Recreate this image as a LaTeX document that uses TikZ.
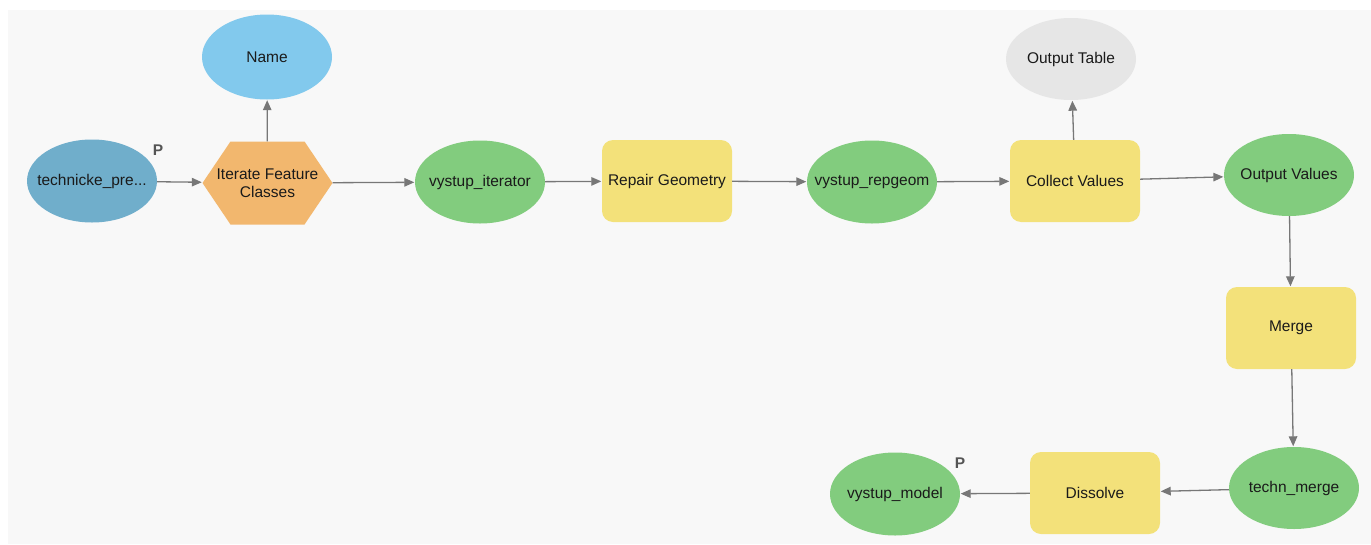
\documentclass[tikz,border=0pt]{standalone}
\usepackage{fontspec}
\setmainfont{Liberation Sans}
\usetikzlibrary{shapes.geometric,arrows.meta}
\definecolor{databl}{HTML}{70AECB}
\definecolor{namebl}{HTML}{82C9ED}
\definecolor{iterorange}{HTML}{F2B76E}
\definecolor{vargreen}{HTML}{82CC7E}
\definecolor{toolyellow}{HTML}{F3E17A}
\definecolor{outgray}{HTML}{E6E6E6}
\definecolor{bggray}{HTML}{F8F8F8}
\definecolor{arrgray}{HTML}{777777}
\definecolor{txt}{HTML}{1A1A1A}
\definecolor{plabel}{HTML}{555555}
\tikzset{
  base/.style={font=\fontsize{15.5}{18}\selectfont, text=txt, inner sep=0pt, align=center},
  varell/.style={base, ellipse, inner xsep=-20pt, inner ysep=0pt, fill=vargreen, minimum width=130pt, minimum height=83pt},
  toolbox/.style={base, rectangle, rounded corners=11pt, fill=toolyellow, minimum width=130pt, minimum height=82pt},
  hexnode/.style={base, rectangle, minimum width=130pt, minimum height=83pt,
    path picture={\fill[iterorange] (path picture bounding box.west) -- ([xshift=28pt]path picture bounding box.north west) -- ([xshift=-28pt]path picture bounding box.north east) -- (path picture bounding box.east) -- ([xshift=-28pt]path picture bounding box.south east) -- ([xshift=28pt]path picture bounding box.south west) -- cycle;}},
  conn/.style={draw=arrgray, line width=1.3pt, -{Triangle[length=10pt,width=8.5pt]}, shorten >=0.5pt},
  plab/.style={font=\fontsize{15.5}{15.5}\selectfont\bfseries, text=plabel, inner sep=0pt}
}
\begin{document}
\begin{tikzpicture}[x=1pt,y=-1pt]
\useasboundingbox (0,0) rectangle (1371,544);
\fill[bggray] (8,10) rectangle (1371,544);
\node[varell, fill=databl] (tech) at (92,181) {technicke\_pre...};
\node[plab] (p1) at (158,150) {P};
\node[hexnode] (iter) at (267.5,183) {Iterate Feature\\Classes};
\node[varell, fill=namebl, minimum height=85pt] (name) at (267,57) {Name};
\node[varell] (vit) at (480,182) {vystup\_iterator};
\node[toolbox] (repair) at (667,181) {Repair Geometry};
\node[varell] (vrep) at (872,182) {vystup\_repgeom};
\node[toolbox] (collect) at (1075,181) {Collect Values};
\node[varell, fill=outgray, minimum height=82pt] (otab) at (1071,59) {Output Table};
\node[varell, minimum height=82pt] (oval) at (1289,175) {Output Values};
\node[toolbox] (merge) at (1291,328) {Merge};
\node[varell, minimum height=82pt] (tmerge) at (1294,488) {techn\_merge};
\node[toolbox] (diss) at (1095,493) {Dissolve};
\node[varell] (vmodel) at (895,494) {vystup\_model};
\node[plab] (p2) at (960,463) {P};
\draw[conn] (tech) -- (iter);
\draw[conn] (iter) -- (name);
\draw[conn] (iter) -- (vit);
\draw[conn] (vit) -- (repair);
\draw[conn] (repair) -- (vrep);
\draw[conn] (vrep) -- (collect);
\draw[conn] (collect) -- (otab);
\draw[conn] (collect) -- (oval);
\draw[conn] (oval) -- (merge);
\draw[conn] (merge) -- (tmerge);
\draw[conn] (tmerge) -- (diss);
\draw[conn] (diss) -- (vmodel);
\end{tikzpicture}
\end{document}
